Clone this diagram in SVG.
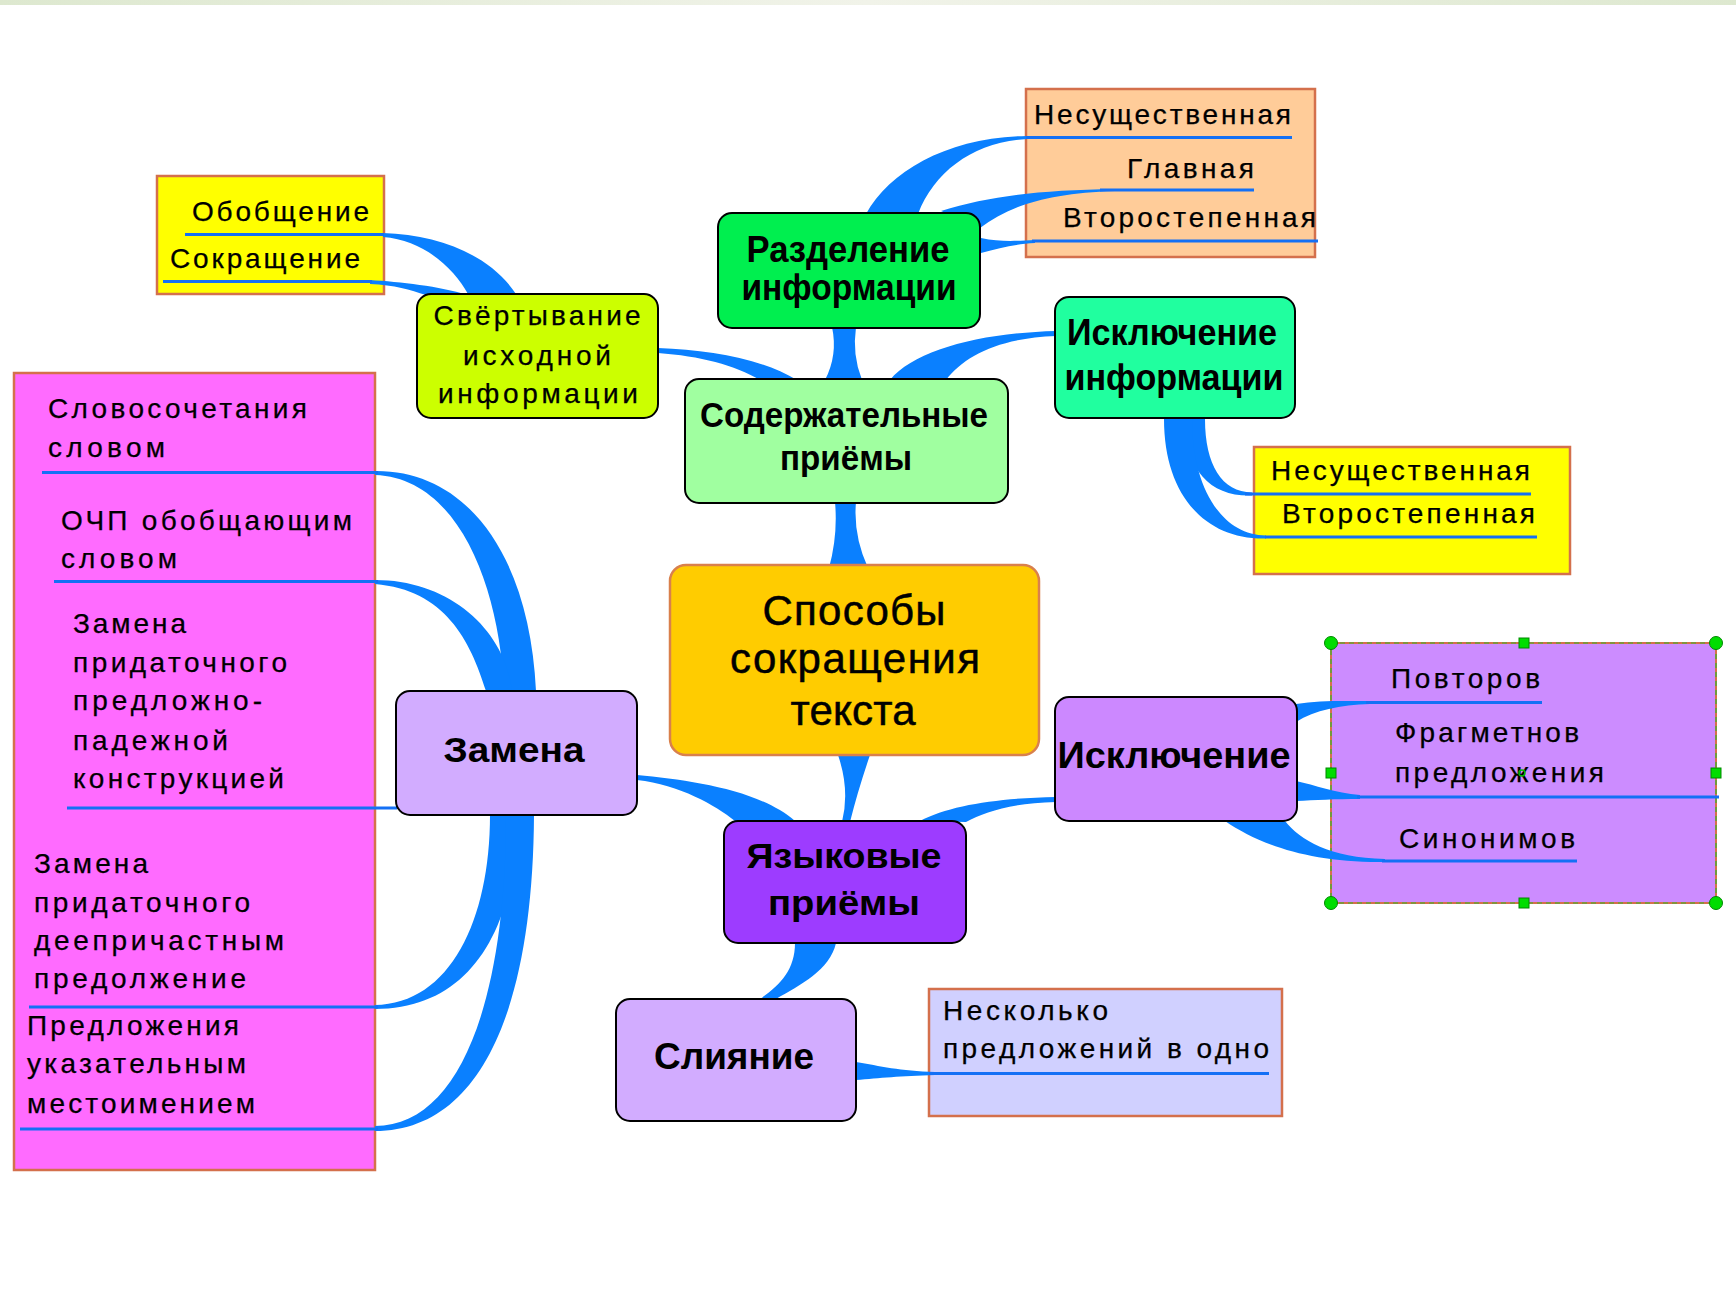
<svg xmlns="http://www.w3.org/2000/svg" width="1736" height="1304" viewBox="0 0 1736 1304">
<defs>
<linearGradient id="band" x1="0" x2="1" y1="0" y2="0">
<stop offset="0" stop-color="#dde8cf"/><stop offset="0.5" stop-color="#f1f3e9"/><stop offset="1" stop-color="#dde8cf"/>
</linearGradient>
</defs>
<style>
.leaf{stroke:#d4704c;stroke-width:2.5}
.node{stroke:#000;stroke-width:2}
.t{font-family:"Liberation Sans",Arial,sans-serif;font-size:28px;fill:#000;stroke:#000;stroke-width:0.25}
.tm{font-family:"Liberation Sans",Arial,sans-serif;font-size:28px;fill:#000;stroke:#000;stroke-width:0.25;text-anchor:middle}
.b{font-family:"Liberation Sans",Arial,sans-serif;font-weight:bold;fill:#000;text-anchor:middle}
.r{font-family:"Liberation Sans",Arial,sans-serif;font-size:42px;fill:#000;stroke:#000;stroke-width:0.5;text-anchor:middle}
.c{fill:#0a80ff}
.u{stroke:#1470f5;stroke-width:3;fill:none}
.hc{fill:#00dd00;stroke:#008800;stroke-width:1}
</style>
<rect width="1736" height="1304" fill="#fff"/>
<rect width="1736" height="5" fill="url(#band)"/>

<g id="leaf-razdelenie">
<rect class="leaf" x="1026" y="89" width="289" height="168" fill="#ffcc99"/>
<text class="t" x="1034" y="124" textLength="257">Несущественная</text>
<text class="t" x="1127" y="178" textLength="127">Главная</text>
<text class="t" x="1063" y="227" textLength="253">Второстепенная</text>
</g>

<g id="leaf-svertyvanie">
<rect class="leaf" x="157" y="176" width="227" height="118" fill="#ffff00"/>
<text class="t" x="192" y="221" textLength="177">Обобщение</text>
<text class="t" x="170" y="268" textLength="190">Сокращение</text>
</g>

<g id="leaf-isklinfo">
<rect class="leaf" x="1254" y="447" width="316" height="127" fill="#ffff00"/>
<text class="t" x="1271" y="480" textLength="259">Несущественная</text>
<text class="t" x="1282" y="523" textLength="253">Второстепенная</text>
</g>

<g id="leaf-zamena">
<rect class="leaf" x="14" y="373" width="361" height="797" fill="#ff6bff"/>
<text class="t" x="48" y="418" textLength="259">Словосочетания</text>
<text class="t" x="48" y="457" textLength="117">словом</text>
<text class="t" x="61" y="530" textLength="291">ОЧП обобщающим</text>
<text class="t" x="61" y="568" textLength="116">словом</text>
<text class="t" x="73" y="633" textLength="113">Замена</text>
<text class="t" x="73" y="672" textLength="214">придаточного</text>
<text class="t" x="73" y="710" textLength="189">предложно-</text>
<text class="t" x="73" y="750" textLength="155">падежной</text>
<text class="t" x="73" y="788" textLength="211">конструкцией</text>
<text class="t" x="34" y="873" textLength="114">Замена</text>
<text class="t" x="34" y="912" textLength="216">придаточного</text>
<text class="t" x="34" y="950" textLength="250">деепричастным</text>
<text class="t" x="34" y="988" textLength="212">предолжение</text>
<text class="t" x="27" y="1035" textLength="212">Предложения</text>
<text class="t" x="27" y="1073" textLength="219">указательным</text>
<text class="t" x="27" y="1113" textLength="228">местоимением</text>
</g>

<g id="leaf-isklyuchenie">
<rect x="1331" y="643" width="385" height="260" fill="#cc8cff" stroke="#d4704c" stroke-width="2"/>
<rect x="1331" y="643" width="385" height="260" fill="none" stroke="#2fb82f" stroke-width="1.2" stroke-dasharray="5 4"/>
<text class="t" x="1391" y="688" textLength="149">Повторов</text>
<text class="t" x="1395" y="742" textLength="184">Фрагметнов</text>
<text class="t" x="1395" y="782" textLength="209">предложения</text>
<text class="t" x="1399" y="848" textLength="176">Синонимов</text>
</g>

<g id="leaf-sliyanie">
<rect class="leaf" x="929" y="989" width="353" height="127" fill="#d0d0ff"/>
<text class="t" x="943" y="1020" textLength="165">Несколько</text>
<text class="t" x="943" y="1058" textLength="326">предложений в одно</text>
</g>

<g id="connectors">
<path class="c" d="M835 502 Q838 535 829 568 L868 568 Q853 535 856 502 Z"/>
<path class="c" d="M832 327 Q838 355 825 380 L862 380 Q852 355 856 327 Z"/>
<path class="c" d="M838 755 Q850 790 842 822 L850 822 Q858 790 870 755 Z"/>
<path class="c" d="M658 348 C710 350 760 358 797 380 L760 380 C735 365 700 356 658 353 Z"/>
<path class="c" d="M890 380 C915 350 980 333 1056 331 L1056 336 C1000 338 965 355 946 380 Z"/>
<path class="c" d="M866 214 C890 170 950 137 1027 136 L1027 139 C975 142 935 170 918 214 Z"/>
<path class="c" d="M941 211 C990 196 1040 190 1115 189 L1115 191 C1050 193 1010 205 980 228 Z"/>
<path class="c" d="M981 238 C1000 242 1015 241 1035 240 L1035 243 C1015 244 1000 248 981 253 Z"/>
<path class="c" d="M383 233 C440 235 490 255 516 294 L468 294 C455 270 425 240 383 237 Z"/>
<path class="c" d="M370 280 C400 282 440 286 467 295 L426 295 C410 290 395 285 370 284 Z"/>
<path class="c" d="M1205 419 C1205 465 1222 492 1252 492.5 L1252 495.5 C1212 497 1185 472 1185 419 Z"/>
<path class="c" d="M1192 419 C1192 485 1220 535 1266 535.5 L1266 538.5 C1205 540 1164 495 1164 419 Z"/>
<path class="c" d="M637 775 C690 780 760 790 795 821 L735 821 C715 805 680 785 637 780 Z"/>
<path class="c" d="M920 821 C950 805 1000 798 1056 797 L1056 802 C1010 803 985 812 966 822 Z"/>
<path class="c" d="M795 943 C795 970 780 985 760 999 L776 999 C800 985 830 970 836 943 Z"/>
<path class="c" d="M375 471 C470 470 530 560 536 691 L504 691 C500 590 460 478 375 475 Z"/>
<path class="c" d="M375 580 C450 580 505 630 512 691 L486 691 C470 640 445 590 375 584 Z"/>
<path class="c" d="M375 1005 C450 1004 490 920 490 815 L518 815 C516 930 470 1009 375 1009 Z"/>
<path class="c" d="M375 1126 C460 1126 506 1000 506 815 L534 815 C533 1010 480 1131 375 1131 Z"/>
<path class="c" d="M1296 704 C1320 700 1345 701 1370 701 L1370 704 C1340 705 1315 710 1296 722 Z"/>
<path class="c" d="M1296 781 C1315 785 1335 793 1360 795 L1360 799 C1335 799 1315 800 1296 801 Z"/>
<path class="c" d="M1225 821 C1260 845 1310 863 1385 862 L1385 859 C1330 858 1300 840 1285 821 Z"/>
<path class="c" d="M856 1062 C880 1066 900 1071 935 1072 L935 1075 C900 1076 880 1078 856 1080 Z"/>
<line class="u" x1="1026" y1="137.5" x2="1292" y2="137.5"/>
<line class="u" x1="1100" y1="190" x2="1254" y2="190"/>
<line class="u" x1="1032" y1="241" x2="1318" y2="241"/>
<line class="u" x1="185" y1="234.5" x2="384" y2="234.5"/>
<line class="u" x1="163" y1="281.5" x2="372" y2="281.5"/>
<line class="u" x1="1245" y1="494" x2="1531" y2="494"/>
<line class="u" x1="1265" y1="537" x2="1537" y2="537"/>
<line class="u" x1="42" y1="472.5" x2="378" y2="472.5"/>
<line class="u" x1="54" y1="581.5" x2="378" y2="581.5"/>
<line class="u" x1="67" y1="808" x2="397" y2="808"/>
<line class="u" x1="29" y1="1007" x2="378" y2="1007"/>
<line class="u" x1="20" y1="1129" x2="378" y2="1129"/>
<line class="u" x1="1366" y1="702.5" x2="1542" y2="702.5"/>
<line class="u" x1="1357" y1="797" x2="1719" y2="797"/>
<line class="u" x1="1382" y1="861" x2="1577" y2="861"/>
<line class="u" x1="929" y1="1073.5" x2="1269" y2="1073.5"/>
</g>

<g id="handles">
<circle class="hc" cx="1331" cy="643" r="6.5"/>
<circle class="hc" cx="1716" cy="643" r="6.5"/>
<circle class="hc" cx="1331" cy="903" r="6.5"/>
<circle class="hc" cx="1716" cy="903" r="6.5"/>
<rect class="hc" x="1519" y="638" width="10" height="10"/>
<rect class="hc" x="1519" y="898" width="10" height="10"/>
<rect class="hc" x="1326" y="768" width="10" height="10"/>
<rect class="hc" x="1711" y="768" width="10" height="10"/>
<circle cx="1522" cy="773" r="3" fill="none" stroke="#00bb00" stroke-width="1.5"/>
</g>

<g id="node-svertyvanie">
<rect class="node" x="417" y="294" width="241" height="124" rx="14" fill="#ccff00"/>
<text class="tm" x="537" y="325" textLength="207">Свёртывание</text>
<text class="tm" x="537" y="365" textLength="148">исходной</text>
<text class="tm" x="538" y="403" textLength="200">информации</text>
</g>

<g id="node-razdelenie">
<rect class="node" x="718" y="213" width="262" height="115" rx="14" fill="#00ef4f"/>
<text class="b" x="848" y="262" font-size="36" textLength="203" lengthAdjust="spacingAndGlyphs">Разделение</text>
<text class="b" x="849" y="300" font-size="36" textLength="215" lengthAdjust="spacingAndGlyphs">информации</text>
</g>

<g id="node-isklinfo">
<rect class="node" x="1055" y="297" width="240" height="121" rx="14" fill="#20ff9f"/>
<text class="b" x="1172" y="345" font-size="36" textLength="210" lengthAdjust="spacingAndGlyphs">Исключение</text>
<text class="b" x="1174" y="390" font-size="36" textLength="219" lengthAdjust="spacingAndGlyphs">информации</text>
</g>

<g id="node-soderzh">
<rect class="node" x="685" y="379" width="323" height="124" rx="14" fill="#a0ffa0"/>
<text class="b" x="844" y="427" font-size="35" textLength="288" lengthAdjust="spacingAndGlyphs">Содержательные</text>
<text class="b" x="846" y="470" font-size="35" textLength="132" lengthAdjust="spacingAndGlyphs">приёмы</text>
</g>

<g id="node-root">
<rect x="670" y="565" width="369" height="190" rx="16" fill="#ffcc00" stroke="#d9804c" stroke-width="2.5"/>
<text class="r" x="854" y="625" textLength="183">Способы</text>
<text class="r" x="855" y="673" textLength="250">сокращения</text>
<text class="r" x="853" y="725" textLength="125">текста</text>
</g>

<g id="node-zamena">
<rect class="node" x="396" y="691" width="241" height="124" rx="14" fill="#d2acff"/>
<text class="b" x="514" y="762" font-size="35" textLength="141" lengthAdjust="spacingAndGlyphs">Замена</text>
</g>

<g id="node-yazyk">
<rect class="node" x="724" y="821" width="242" height="122" rx="14" fill="#9d3cff"/>
<text class="b" x="844" y="868" font-size="35" textLength="195" lengthAdjust="spacingAndGlyphs">Языковые</text>
<text class="b" x="844" y="915" font-size="35" textLength="152" lengthAdjust="spacingAndGlyphs">приёмы</text>
</g>

<g id="node-isklyuchenie">
<rect class="node" x="1055" y="697" width="242" height="124" rx="14" fill="#cc88ff"/>
<text class="b" x="1174" y="768" font-size="37" textLength="233" lengthAdjust="spacingAndGlyphs">Исключение</text>
</g>

<g id="node-sliyanie">
<rect class="node" x="616" y="999" width="240" height="122" rx="14" fill="#d2acff"/>
<text class="b" x="734" y="1069" font-size="36" textLength="160" lengthAdjust="spacingAndGlyphs">Слияние</text>
</g>
</svg>
